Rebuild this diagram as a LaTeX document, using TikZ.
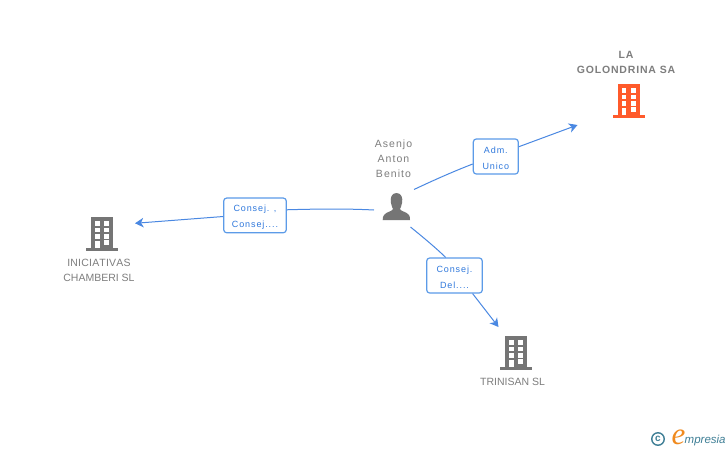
\documentclass[tikz,border=0pt]{standalone}
\usepackage{fontspec}
\setmainfont{Liberation Sans}
\newfontfamily\spacedfont[LetterSpace=10]{Liberation Sans}
\newfontfamily\capsfont[Kerning=Off,LetterSpace=0]{Liberation Sans}
\newfontfamily\iniciatfont[Kerning=Off,LetterSpace=2]{Liberation Sans}
\newfontfamily\loosefont[LetterSpace=10]{Liberation Sans}
\newfontfamily\boldfont[LetterSpace=8]{Liberation Sans}
\newfontfamily\logofont{Liberation Serif}
\usetikzlibrary{arrows.meta}
\definecolor{edgeblue}{HTML}{4A88E2}
\definecolor{boxblue}{HTML}{5C9BE8}
\definecolor{labelblue}{HTML}{2F78DC}
\definecolor{icongray}{HTML}{757575}
\definecolor{textgray}{HTML}{7E7E7E}
\definecolor{iconorange}{HTML}{FF5A2B}
\definecolor{logoteal}{HTML}{3F7F96}
\definecolor{logoorange}{HTML}{F08A1E}
\newcommand{\toprule}{\rule{0pt}{10.5pt}}
\tikzset{
  x=1pt,y=-1pt,
  flow/.style={draw=edgeblue,line width=1pt},
  flowarrow/.style={flow,-{Stealth[length=8.5pt,width=9.5pt,inset=2.5pt]}},
  rolebox/.style={draw=boxblue,line width=1.2pt,rounded corners=3pt,fill=white,inner sep=0pt,
    align=center,text=labelblue,font=\spacedfont\fontsize{9}{15.5}\selectfont},
  caption/.style={align=center,inner sep=0pt,text=textgray,font=\capsfont\fontsize{10.5}{15}\selectfont},
  personcaption/.style={caption,font=\loosefont\fontsize{10.5}{15}\selectfont},
  boldcaption/.style={caption,font=\boldfont\bfseries\fontsize{10.5}{15}\selectfont},
  anchorbox/.style={inner sep=0pt,minimum width=32pt,minimum height=34pt},
  building/.pic={
    \fill[pic actions] (5,0) rectangle (27.3,31);
    \fill[pic actions] (0,31) rectangle (32,34);
    \foreach \cx in {9,18.3} \foreach \cy in {4,10.7,17.3}
      \fill[white] (\cx,\cy) rectangle +(4.8,4.7);
    \fill[white] (9,24) rectangle (13.8,31);
    \fill[white] (18.3,23.3) rectangle (23.1,28);
  }
}
\begin{document}
\begin{tikzpicture}
\useasboundingbox (0,0) rectangle (728,450);
\fill[white] (0,0) rectangle (728,450);

% nodes
\node[anchorbox] (golondrina) at (628.5,101) {};
\node[anchorbox] (iniciativas) at (102,234) {};
\node[anchorbox] (trinisan) at (516,353) {};
\node[inner sep=0pt,minimum width=28pt,minimum height=28pt] (person) at (396.5,206.5) {};

\pic[fill=iconorange] at (612.5,84) {building};
\pic[fill=icongray] at (86,217) {building};
\pic[fill=icongray] at (500,336) {building};

% person icon
\fill[icongray] (396.5,193) .. controls (391.5,193) and (390,198) .. (391,203)
  .. controls (391.5,206) and (392.5,208) .. (393,209)
  .. controls (393,211) and (386,212) .. (384,215)
  .. controls (383,216.5) and (382.7,218) .. (382.7,220) -- (410,220)
  .. controls (410,218) and (410,216.5) .. (409,215)
  .. controls (407,212) and (400,211) .. (400,209)
  .. controls (400.5,208) and (401.5,206) .. (402,203)
  .. controls (403,198) and (401.5,193) .. (396.5,193) -- cycle;

% texts
\node[boldcaption] (golondrinatext) at (626,62) {LA\\GOLONDRINA SA};
\node[caption] at (99,270.5) {{\iniciatfont INICIATIVAS}\\CHAMBERI SL};
\node[caption] at (512.5,382) {TRINISAN SL};
\node[personcaption] at (393.5,158.5) {Asenjo\\Anton\\Benito};

% role boxes
\node[rolebox,minimum width=45pt,minimum height=35pt] (adm) at (495.8,156.5) {\toprule Adm.\hspace{3pt}\\Unico};
\node[rolebox,minimum width=62.6pt,minimum height=34.7pt] (consejA) at (255,215.4) {\toprule Consej. ,\\Consej....};
\node[rolebox,minimum width=55.6pt,minimum height=35pt] (consejB) at (454.5,275.5) {\toprule Consej.\\Del....};

% free ends
\coordinate (pa) at (414,189.5);
\coordinate (pb) at (374,210);
\coordinate (pc) at (410.5,227);
\coordinate (ta) at (577.5,125);
\coordinate (tb) at (135,223.3);
\coordinate (tc) at (498.5,327);

% connectors
\draw[flow] (pa) .. controls (432,181) and (452,172) .. (adm.198);
\draw[flowarrow] (adm.23) -- (ta);
\draw[flow] (pb) .. controls (345,208.5) and (315,209) .. (consejA.10);
\draw[flowarrow] (consejA.182) -- (tb);
\draw[flow] (pc) .. controls (424,238) and (436,248) .. (consejB.116);
\draw[flowarrow] (consejB.-45) -- (tc);

% logo
\node[draw=logoteal,line width=1.4pt,circle,inner sep=0pt,minimum size=12.5pt,text=logoteal,font=\bfseries\fontsize{10}{10}\selectfont] (copy) at (658,439) {c};
\node[inner sep=0pt,anchor=base,text=logoorange,font=\logofont\itshape\fontsize{31}{31}\selectfont] (logoe) at (678.5,444) {e};
\node[inner sep=0pt,anchor=base west,text=logoteal,font=\itshape\fontsize{11.5}{11.5}\selectfont] (logotext) at (684.5,443) {mpresia};
\end{tikzpicture}
\end{document}
